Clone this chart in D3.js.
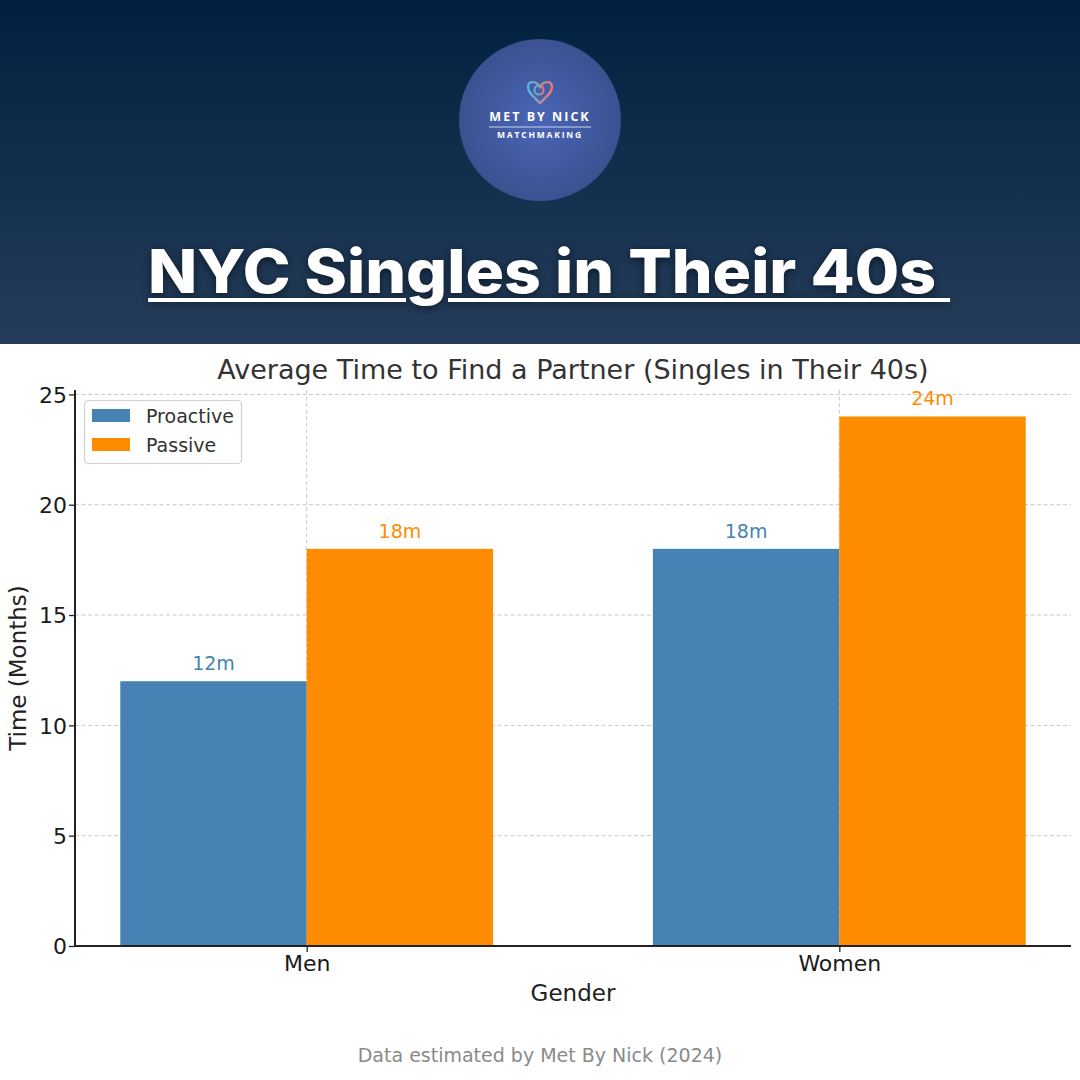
<!DOCTYPE html>
<html>
<head>
<meta charset="utf-8">
<script src="https://cdn.jsdelivr.net/npm/d3@7"></script>
<style>
  html, body { margin: 0; padding: 0; background: #fff; }
  #wrap { position: relative; width: 1080px; height: 1080px; overflow: hidden; }
  svg { position: absolute; left: 0; top: 0; }
  #headline {
    position: absolute; left: 0; top: 235px; width: 1080px; text-align: center;
    font-family: Inter, "Open Sans", sans-serif; font-weight: 800; font-size: 60px;
    line-height: normal; color: #fff;
  }
  #headline span {
    display: inline-block; white-space: pre; transform-origin: 50% 50%;
    text-decoration: underline; text-decoration-thickness: 4px;
    text-underline-offset: 5px; text-shadow: 0 2px 8px rgba(0,0,0,0.55);
  }
</style>
</head>
<body>
<div id="wrap">
  <svg id="chart" width="1080" height="1080"></svg>
  <div id="headline"><span>NYC Singles in Their 40s </span></div>
</div>
<script>
// chart data
var categories = ["Men", "Women"];
var seriesNames = ["Proactive", "Passive"];
var proactive = [12, 18];
var passive = [18, 24];
var yTicks = [0, 5, 10, 15, 20, 25];

!function () {
    var colors = {Proactive: "#4682b4", Passive: "#ff8c00"};

    // stretch headline to the width of the original
    var span = document.querySelector("#headline span");
    var w = span.getBoundingClientRect().width;
    span.style.transform = "translateX(9px) scaleX(" + (802 / w) + ")";

    var svg = d3.select("#chart");

    // header band
    var defs = svg.append("defs");
    var hg = defs.append("linearGradient").attr("id", "hdr")
        .attr("x1", 0).attr("y1", 0).attr("x2", 0).attr("y2", 1);
    hg.append("stop").attr("offset", "0%").attr("stop-color", "#01203f");
    hg.append("stop").attr("offset", "100%").attr("stop-color", "#253d5b");

    var cg = defs.append("radialGradient").attr("id", "disc");
    cg.append("stop").attr("offset", "0%").attr("stop-color", "#4b66b8");
    cg.append("stop").attr("offset", "100%").attr("stop-color", "#3b5190");

    var heartG = defs.append("linearGradient").attr("id", "heart")
        .attr("x1", 0).attr("y1", 0).attr("x2", 1).attr("y2", 0);
    heartG.append("stop").attr("offset", "0%").attr("stop-color", "#4fb6e0");
    heartG.append("stop").attr("offset", "100%").attr("stop-color", "#f2766a");

    svg.append("rect").attr("x", 0).attr("y", 0).attr("width", 1080).attr("height", 344)
        .attr("fill", "url(#hdr)");

    // logo
    var logo = svg.append("g").attr("transform", "translate(540,120)");
    logo.append("circle").attr("r", 81).attr("fill", "url(#disc)");
    logo.append("path")
        .attr("d", "M0,-17 C-3,-23 -12,-24 -12,-17 C-12,-11 -5,-6 0,-1 C5,-6 12,-11 12,-17 C12,-24 3,-23 0,-17 Z")
        .attr("transform", "translate(0,-16)")
        .attr("fill", "none").attr("stroke", "url(#heart)").attr("stroke-width", 2.4);
    logo.append("circle").attr("cx", -1).attr("cy", -30).attr("r", 4.5)
        .attr("fill", "none").attr("stroke", "url(#heart)").attr("stroke-width", 2);
    logo.append("text").attr("x", 0).attr("y", 1).attr("text-anchor", "middle")
        .style("font-family", "'Open Sans', sans-serif").style("font-weight", 700)
        .style("font-size", "12.5px").style("letter-spacing", "2px").attr("fill", "#fff")
        .text("MET BY NICK");
    logo.append("line").attr("x1", -51).attr("x2", 51).attr("y1", 7).attr("y2", 7)
        .attr("stroke", "#c9d3f0").attr("stroke-width", 1);
    logo.append("text").attr("x", 0).attr("y", 17.5).attr("text-anchor", "middle")
        .style("font-family", "'Open Sans', sans-serif").style("font-weight", 700)
        .style("font-size", "8.5px").style("letter-spacing", "1.8px").attr("fill", "#fff")
        .text("MATCHMAKING");

    // plot area
    var pl = 75, pr = 1071, pt = 390, pb = 946;
    var barW = 0.35;

    var x = d3.scaleLinear().domain([-0.435, 1.435]).range([pl, pr]);
    var y = d3.scaleLinear().domain([0, 25.2]).range([pb, pt]);

    var font = "'DejaVu Sans', sans-serif";

    // grid
    var grid = svg.append("g");
    grid.selectAll(".hg").data(yTicks).enter().append("line")
        .attr("x1", pl).attr("x2", pr)
        .attr("y1", function (d) { return y(d); }).attr("y2", function (d) { return y(d); })
        .attr("stroke", "#c8c8c8").attr("stroke-width", 1).attr("stroke-dasharray", "4,2.5");
    grid.selectAll(".vg").data(categories).enter().append("line")
        .attr("x1", function (d, i) { return x(i); }).attr("x2", function (d, i) { return x(i); })
        .attr("y1", pt).attr("y2", pb)
        .attr("stroke", "#c8c8c8").attr("stroke-width", 1).attr("stroke-dasharray", "4,2.5");

    // bars
    var series = [
        {name: "Proactive", values: proactive, offset: -barW / 2},
        {name: "Passive", values: passive, offset: barW / 2}
    ];

    series.forEach(function (s) {
        var g = svg.append("g");
        g.selectAll("rect").data(s.values).enter().append("rect")
            .attr("x", function (d, i) { return x(i + s.offset - barW / 2); })
            .attr("y", function (d) { return y(d); })
            .attr("width", x(barW) - x(0))
            .attr("height", function (d) { return y(0) - y(d); })
            .attr("fill", colors[s.name]);
        g.selectAll("text").data(s.values).enter().append("text")
            .attr("x", function (d, i) { return x(i + s.offset); })
            .attr("y", function (d) { return y(d) - 11; })
            .attr("text-anchor", "middle")
            .style("font-family", font).style("font-size", "19px")
            .attr("fill", colors[s.name])
            .text(function (d) { return d + "m"; });
    });

    // axes
    var xAxis = svg.append("g").attr("transform", "translate(0," + pb + ")")
        .call(d3.axisBottom(x).tickValues([0, 1]).tickSize(6).tickPadding(3)
            .tickFormat(function (d) { return categories[d]; }));
    var yAxis = svg.append("g").attr("transform", "translate(" + pl + ",0)")
        .call(d3.axisLeft(y).tickValues(yTicks).tickSize(6).tickPadding(2));

    [xAxis, yAxis].forEach(function (a) {
        a.select(".domain").attr("stroke", "#222").attr("stroke-width", 2);
        a.selectAll(".tick line").attr("stroke", "#222").attr("stroke-width", 1.3);
        a.selectAll(".tick text").style("font-family", font).style("font-size", "22px").attr("fill", "#1a1a1a");
    });
    yAxis.select(".domain").attr("d", "M0," + pb + "V" + pt);
    xAxis.select(".domain").attr("d", "M" + pl + ",0H" + pr);
    yAxis.selectAll(".tick text").attr("dy", "0.36em");

    // titles
    svg.append("text").attr("x", (pl + pr) / 2).attr("y", 379).attr("text-anchor", "middle")
        .style("font-family", font).style("font-size", "27px").attr("fill", "#333")
        .text("Average Time to Find a Partner (Singles in Their 40s)");
    svg.append("text").attr("x", (pl + pr) / 2).attr("y", 1001).attr("text-anchor", "middle")
        .style("font-family", font).style("font-size", "23px").attr("fill", "#222")
        .text("Gender");
    svg.append("text").attr("transform", "translate(26," + (pt + pb) / 2 + ") rotate(-90)")
        .attr("text-anchor", "middle")
        .style("font-family", font).style("font-size", "23px").attr("fill", "#222")
        .text("Time (Months)");
    svg.append("text").attr("x", 540).attr("y", 1062).attr("text-anchor", "middle")
        .style("font-family", font).style("font-size", "19px").attr("fill", "#8a8a8a")
        .text("Data estimated by Met By Nick (2024)");

    // legend
    var legend = svg.append("g");
    legend.append("rect").attr("x", 84.5).attr("y", 400.5).attr("width", 157).attr("height", 63)
        .attr("rx", 4).attr("fill", "#fff").attr("fill-opacity", 0.85)
        .attr("stroke", "#d0d0d0").attr("stroke-width", 1.2);
    seriesNames.forEach(function (n, i) {
        legend.append("rect").attr("x", 92).attr("y", 409 + i * 29).attr("width", 38).attr("height", 13)
            .attr("fill", colors[n]);
        legend.append("text").attr("x", 146).attr("y", 423 + i * 29)
            .style("font-family", font).style("font-size", "19px").attr("fill", "#333")
            .text(n);
    });
}();
</script>
</body>
</html>
